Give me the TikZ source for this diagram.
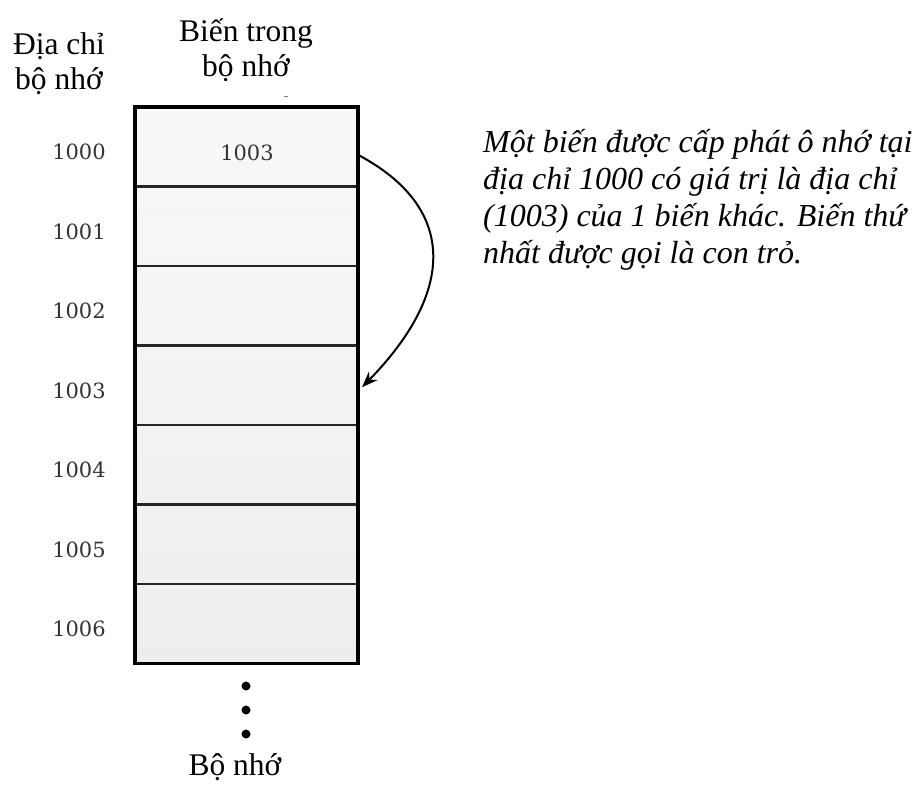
\documentclass[tikz,border=0pt]{standalone}
\usepackage{fontspec}
\setmainfont{Liberation Serif}
\newfontfamily\addrfont{DejaVu Serif}
\usetikzlibrary{arrows.meta}
\begin{document}
\begin{tikzpicture}[x=1pt,y=-1pt,
  header/.style={font=\fontsize{31.5}{35}\selectfont, align=center, inner sep=0pt},
  addr/.style={font=\addrfont\fontsize{21}{22}\selectfont, text=black!80, inner sep=0pt},
  cell/.style={minimum width=223pt, minimum height=79.5pt, inner sep=0pt, outer sep=0pt},
  divider/.style={line width=2.4pt, black!85},
  frame/.style={line width=3.6pt, black},
  pointer/.style={line width=2pt, -{Stealth[length=16pt,width=12pt]}},
  note/.style={font=\itshape\fontsize{32}{37}\selectfont, align=left, inner sep=0pt, anchor=north west}
]
\useasboundingbox (0,0) rectangle (918,786);

% headers
\node[header] (hAddr) at (59,64) {Địa chỉ\\bộ nhớ};
\node[header] (hVar) at (246,50) {Biến trong\\bộ nhớ};

% memory cells
\shade[top color=gray!5, bottom color=gray!14] (135,107) rectangle (358,664);
\foreach \i/\a in {0/1000,1/1001,2/1002,3/1003,4/1004,5/1005,6/1006}{
  \node[cell] (r\i) at (246.5,{146.8+79.5*\i}) {};
  \node[addr] (a\i) at (79,{152+79.5*\i}) {\a};
}
\foreach \i in {1,...,6}{
  \draw[divider] (r\i.north west) -- (r\i.north east);
}
\draw[frame] (r0.north west) rectangle (r6.south east);

% stored value
\node[addr] (v0) at (247,153) {1003};

% small tick above the column
\draw[line width=1pt, gray] (284,97) -- (288,97);

% pointer arrow
\coordinate (pStart) at ([yshift=-8pt]r0.east);
\coordinate (pEnd) at ([xshift=4pt,yshift=-2pt]r3.east);
\draw[pointer] (pStart) .. controls (458,208) and (455,292) .. (pEnd);

% continuation dots
\foreach \j/\yy in {0/686,1/710,2/734}{
  \fill (246,\yy) circle (4.5pt) node (d\j) {};
}

% caption
\node[header] (cap) at (235,767) {Bộ nhớ};

% explanation
\node[note] (txt) at (483,129) {Một biến được cấp phát ô nhớ tại\\địa chỉ 1000 có giá trị là địa chỉ\\(1003) của 1 biến khác. Biến thứ\\nhất được gọi là con trỏ.};
\end{tikzpicture}
\end{document}
